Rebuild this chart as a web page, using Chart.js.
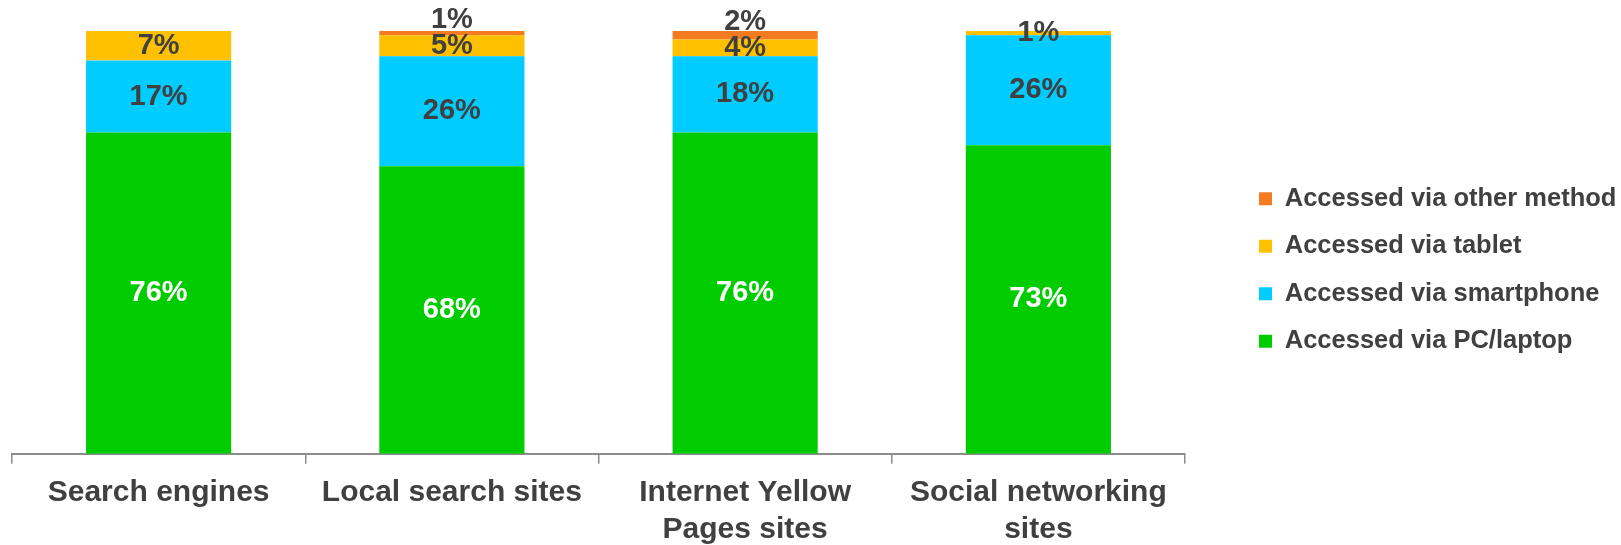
<!DOCTYPE html>
<html>
<head>
<meta charset="utf-8">
<script src="https://cdn.jsdelivr.net/npm/chart.js@4.4.1/dist/chart.umd.min.js"></script>
<style>
  html, body { margin: 0; padding: 0; background: #ffffff; }
  #wrap { width: 1621px; height: 545px; position: relative; }
</style>
</head>
<body>
<div id="wrap"><canvas id="c"></canvas></div>
<script>
const categories = [
  'Search engines',
  'Local search sites',
  ['Internet Yellow', 'Pages sites'],
  ['Social networking', 'sites']
];
const seriesNames = [
  'Accessed via PC/laptop',
  'Accessed via smartphone',
  'Accessed via tablet',
  'Accessed via other method'
];
const pcLaptop   = [76, 68, 76, 73];
const smartphone = [17, 26, 18, 26];
const tablet     = [7, 5, 4, 1];
const otherMethod = [0.4, 1, 2, 0];

const colors = ['#00CC00', '#00CCFF', '#FFC000', '#F47B20'];
const labelColors = ['#FFFFFF', '#404040', '#404040', '#404040'];
const labelOffsets = [0, 0, 0, -13];
const FONT = '"Liberation Sans", Arial, Helvetica, sans-serif';
const TEXT = '#404040';

const seriesValues = [pcLaptop, smartphone, tablet, otherMethod];
const datasets = seriesValues.map((vals, i) => ({
  label: seriesNames[i],
  data: vals,
  backgroundColor: colors[i],
  borderWidth: 0,
  barPercentage: 0.495,
  categoryPercentage: 1.0,
  labelColor: labelColors[i],
  labelOffset: labelOffsets[i]
}));

const segLabels = {
  id: 'segLabels',
  afterDatasetsDraw(chart) {
    const ctx = chart.ctx;
    chart.data.datasets.forEach((ds, di) => {
      const meta = chart.getDatasetMeta(di);
      meta.data.forEach((bar, i) => {
        const v = ds.data[i];
        if (v < 1) return;
        const p = bar.getProps(['x', 'y', 'base'], true);
        const cy = (p.y + p.base) / 2 + (ds.labelOffset || 0);
        ctx.save();
        ctx.font = 'bold 29px ' + FONT;
        ctx.fillStyle = ds.labelColor;
        ctx.textAlign = 'center';
        ctx.textBaseline = 'middle';
        ctx.fillText(Math.round(v) + '%', p.x, cy);
        ctx.restore();
      });
    });
  }
};

const LEG_W = 436, LEG_DX = 52, LEG_DY = -25;
const legendShift = {
  id: 'legendShift',
  afterInit(chart) {
    const lg = chart.legend;
    if (!lg) return;
    const fit = lg.fit.bind(lg);
    lg.fit = function () { fit(); this.width = LEG_W; };
  },
  afterLayout(chart) {
    const lg = chart.legend;
    if (!lg) return;
    lg.left += LEG_DX;
    lg.top += LEG_DY;
    lg.bottom += LEG_DY;
  }
};

new Chart(document.getElementById('c'), {
  type: 'bar',
  data: { labels: categories, datasets: datasets },
  plugins: [segLabels, legendShift],
  options: {
    responsive: true,
    maintainAspectRatio: false,
    animation: false,
    layout: { padding: { left: 12, top: 31, right: 0, bottom: -14 } },
    scales: {
      x: {
        stacked: true,
        grid: {
          offset: true,
          drawOnChartArea: false,
          drawTicks: true,
          tickLength: 10,
          color: '#8C8C8C',
          lineWidth: 1.5
        },
        border: { display: true, color: '#8C8C8C', width: 2 },
        ticks: {
          color: TEXT,
          font: { family: FONT, size: 30, weight: 'bold', lineHeight: 1.22 },
          padding: 11,
          maxRotation: 0,
          autoSkip: false
        }
      },
      y: {
        stacked: true,
        display: false,
        min: 0,
        max: 100
      }
    },
    plugins: {
      legend: {
        position: 'right',
        reverse: true,
        labels: {
          color: TEXT,
          font: { family: FONT, size: 25.5, weight: 'bold' },
          boxWidth: 13,
          boxHeight: 13,
          padding: 22
        }
      },
      tooltip: { enabled: false }
    }
  }
});
</script>
</body>
</html>
